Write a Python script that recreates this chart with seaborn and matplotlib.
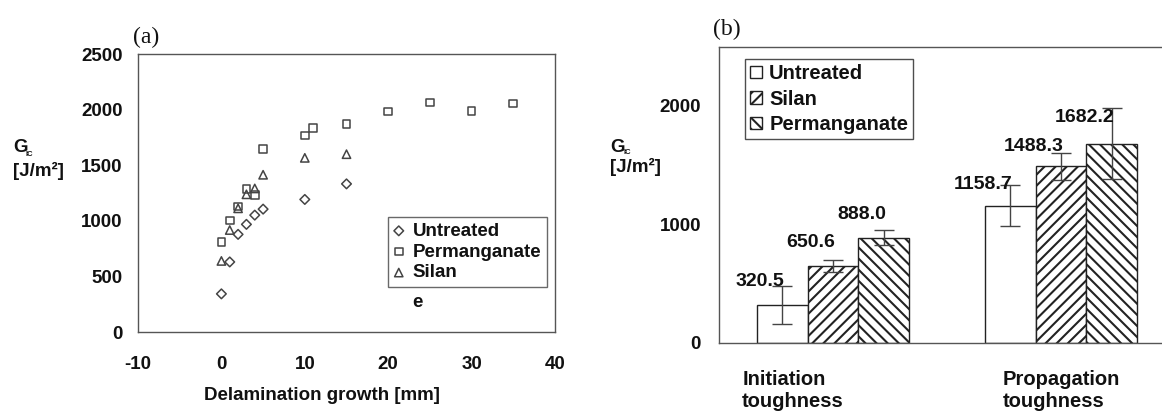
import numpy as np
import pandas as pd
import matplotlib
matplotlib.use("Agg")
import matplotlib.pyplot as plt
import matplotlib.transforms as mtrans
import seaborn as sns

# ---------------- data ----------------
# (a) delamination growth curves
untreated_x = [0, 1, 2, 3, 4, 5, 10, 15]
untreated_y = [343, 630, 878, 968, 1051, 1105, 1192, 1332]
perm_x = [0, 1, 2, 3, 4, 5, 10, 11, 15, 20, 25, 30, 35]
perm_y = [808, 1003, 1127, 1284, 1232, 1647, 1768, 1832, 1871, 1982, 2065, 1990, 2054]
silan_x = [0, 1, 2, 3, 4, 5, 10, 15]
silan_y = [639, 917, 1112, 1238, 1291, 1414, 1566, 1599]

# (b) toughness bars
categories = ["Initiation\ntoughness", "Propagation\ntoughness"]
bar_series = ["Untreated", "Silan", "Permanganate"]
bar_untreated = [320.5, 1158.7]
bar_silan = [650.6, 1488.3]
bar_perm = [888.0, 1682.2]
err_untreated = [160, 175]
err_silan = [50, 110]
err_perm = [65, 300]
value_labels = ["320.5", "1158.7", "650.6", "1488.3", "888.0", "1682.2"]
# vertical centre of each value label (same order as value_labels)
label_y = [513, 1340, 845, 1656, 1079, 1906]

# ---------------- style ----------------
sns.set_theme(style="white")
plt.rcParams["font.family"] = ["Liberation Sans", "DejaVu Sans"]
plt.rcParams["font.weight"] = "bold"
plt.rcParams["hatch.linewidth"] = 1.5
plt.rcParams["axes.unicode_minus"] = False
TXT = "#111111"
SPINE = "#555555"

W, H = 1162, 411
fig = plt.figure(figsize=(W / 100, H / 100), dpi=100)

def px_axes(x0, y0, x1, y1):
    return fig.add_axes([x0 / W, 1 - y1 / H, (x1 - x0) / W, (y1 - y0) / H])

# ---------------- panel (a) ----------------
axa = px_axes(138, 54, 555, 332)
df_a = pd.concat([
    pd.DataFrame({"x": untreated_x, "y": untreated_y, "series": "Untreated"}),
    pd.DataFrame({"x": perm_x, "y": perm_y, "series": "Permanganate"}),
    pd.DataFrame({"x": silan_x, "y": silan_y, "series": "Silan"}),
])
markers = {"Untreated": "D", "Permanganate": "s", "Silan": "^"}
sizes = {"Untreated": 24, "Permanganate": 30, "Silan": 36}
for name in ["Untreated", "Permanganate", "Silan"]:
    sub = df_a[df_a["series"] == name]
    sns.scatterplot(data=sub, x="x", y="y", ax=axa, marker=markers[name],
                    s=sizes[name], facecolor="none", edgecolor="#444444",
                    linewidth=1.1, label=name, zorder=3)
axa.set_xlim(-10, 40)
axa.set_ylim(0, 2500)
axa.set_xticks([-10, 0, 10, 20, 30, 40])
axa.set_yticks([0, 500, 1000, 1500, 2000, 2500])
axa.set_xlabel("Delamination growth [mm]", fontsize=13.5, fontweight="bold",
               color=TXT)
axa.xaxis.set_label_coords(0.441, -0.198)
axa.set_ylabel("")
axa.tick_params(axis="both", direction="in", length=3, color=SPINE,
                labelsize=13.5, labelcolor=TXT)
axa.tick_params(axis="x", pad=17)
axa.tick_params(axis="y", pad=11)
for sp in axa.spines.values():
    sp.set_color(SPINE)
    sp.set_linewidth(1.0)
leg = axa.legend(loc="upper right", bbox_to_anchor=(0.981, 0.4137),
                 fontsize=13.5, frameon=True, fancybox=False, shadow=False,
                 borderpad=0.3, labelspacing=0.2, handlelength=0.6,
                 handletextpad=0.45, borderaxespad=0)
leg.get_frame().set_edgecolor("#444444")
leg.get_frame().set_linewidth(1.0)
for t in leg.get_texts():
    t.set_color(TXT)
fig.text(417 / W, 1 - 302 / H, "e", fontsize=13.5, fontweight="bold",
         color=TXT, ha="center", va="center")
fig.text(133 / W, 1 - 37 / H, "(a)", fontsize=17, family="Liberation Serif",
         fontweight="normal", color=TXT, ha="left", va="center")
fig.text(13 / W, 1 - 148 / H, "G", fontsize=13.5, fontweight="bold", color=TXT,
         ha="left", va="center")
fig.text(26 / W, 1 - 154 / H, "IC", fontsize=5.5, fontweight="bold", color=TXT,
         ha="left", va="center")
fig.text(13 / W, 1 - 171 / H, "[J/m²]", fontsize=13.5, fontweight="bold",
         color=TXT, ha="left", va="center")

# ---------------- panel (b) ----------------
axb = px_axes(719, 46.7, 1175, 342.7)
df_b = pd.DataFrame({
    "category": categories * 3,
    "series": [s for s in bar_series for _ in categories],
    "value": bar_untreated + bar_silan + bar_perm,
    "err": err_untreated + err_silan + err_perm,
})
sns.barplot(data=df_b, x="category", y="value", hue="series",
            hue_order=bar_series, order=categories, errorbar=None,
            width=0.67, ax=axb, legend=False, zorder=2)
bar_conts = list(axb.containers)
hatches = {"Untreated": "", "Silan": "///", "Permanganate": "\\\\\\"}
handles = []
all_x = []
for cont, name in zip(bar_conts, bar_series):
    sub = df_b[df_b["series"] == name]
    xs = []
    for patch in cont.patches:
        patch.set_facecolor("white")
        patch.set_edgecolor("#222222")
        patch.set_linewidth(1.0)
        patch.set_hatch(hatches[name])
        xs.append(patch.get_x() + patch.get_width() / 2)
    all_x.extend(xs)
    handles.append(cont.patches[0])
    axb.errorbar(xs, sub["value"].values, yerr=sub["err"].values, fmt="none",
                 ecolor="#444444", elinewidth=1.0, capsize=7, capthick=1.0,
                 zorder=3)
for xc, txt, yy in zip(all_x, value_labels, label_y):
    axb.text(xc + 0.01, yy, txt, ha="right", va="center", fontsize=14,
             fontweight="bold", color=TXT, zorder=4)
axb.set_xlim(-0.5, 1.5)
axb.set_ylim(0, 2500)
axb.set_yticks([0, 1000, 2000])
axb.set_xlabel("")
axb.set_ylabel("")
axb.tick_params(axis="y", direction="in", length=4, color=SPINE,
                labelsize=13.5, labelcolor=TXT, pad=13)
axb.tick_params(axis="x", length=0, labelsize=14.5, labelcolor=TXT, pad=20)
for lab in axb.get_xticklabels():
    lab.set_fontweight("bold")
    lab.set_multialignment("left")
xl = axb.get_xticklabels()
xl[0].set_transform(xl[0].get_transform() +
                    mtrans.ScaledTranslation(-0.40, 0, fig.dpi_scale_trans))
for sp in axb.spines.values():
    sp.set_color(SPINE)
    sp.set_linewidth(1.0)
legb = axb.legend(handles, bar_series, loc="upper left",
                  bbox_to_anchor=(0.057, 0.958), fontsize=14.5, frameon=True,
                  fancybox=False, shadow=False, borderpad=0.25,
                  labelspacing=0.32, handlelength=0.6, handleheight=0.6,
                  handletextpad=0.35, borderaxespad=0)
legb.get_frame().set_edgecolor("#222222")
legb.get_frame().set_linewidth(1.0)
for t in legb.get_texts():
    t.set_color(TXT)
fig.text(713 / W, 1 - 29 / H, "(b)", fontsize=17, family="Liberation Serif",
         fontweight="normal", color=TXT, ha="left", va="center")
fig.text(610 / W, 1 - 147 / H, "G", fontsize=13.5, fontweight="bold",
         color=TXT, ha="left", va="center")
fig.text(623 / W, 1 - 153 / H, "IC", fontsize=5.5, fontweight="bold",
         color=TXT, ha="left", va="center")
fig.text(610 / W, 1 - 167 / H, "[J/m²]", fontsize=13.5, fontweight="bold",
         color=TXT, ha="left", va="center")

fig.savefig("out.png", dpi=100, facecolor="white")
